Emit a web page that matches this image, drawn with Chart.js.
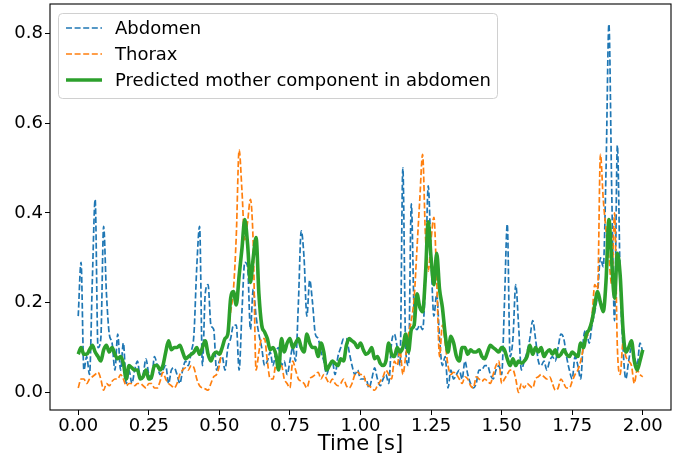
<!DOCTYPE html>
<html>
<head>
<meta charset="utf-8">
<script src="https://cdn.jsdelivr.net/npm/chart.js@4/dist/chart.umd.min.js"></script>
<style>
  html, body { margin: 0; padding: 0; background: #ffffff; }
  canvas { display: block; }
</style>
</head>
<body>
<canvas id="chart" width="683" height="460"></canvas>
<script>
// Seconds between consecutive samples of every trace
const SAMPLE_STEP = 0.01;

// Abdominal lead (blue, dashed)
const abdomen = [
  0.17, 0.29, 0.05, 0.08, 0.04, 0.25, 0.43, 0.10, 0.12, 0.37,
  0.22, 0.13, 0.11, 0.05, 0.13, 0.05, 0.11, 0.02, 0.05, 0.02,
  0.05, 0.07, 0.03, 0.04, 0.075, 0.04, 0.03, 0.08, 0.06, 0.04,
  0.05, 0.06, 0.02, 0.05, 0.055, 0.04, 0.02, 0.05, 0.07, 0.06,
  0.09, 0.13, 0.28, 0.37, 0.06, 0.22, 0.24, 0.15, 0.14, 0.05,
  0.07, 0.08, 0.05, 0.10, 0.12, 0.15, 0.15, 0.05, 0.18, 0.29,
  0.28, 0.14, 0.23, 0.17, 0.13, 0.10, 0.06, 0.07, 0.09, 0.06,
  0.09, 0.10, 0.06, 0.07, 0.04, 0.07, 0.10, 0.07, 0.20, 0.36,
  0.30, 0.17, 0.25, 0.20, 0.13, 0.12, 0.09, 0.07, 0.04, 0.06,
  0.07, 0.04, 0.08, 0.10, 0.12, 0.12, 0.09, 0.06, 0.04, 0.05,
  0.03, 0.03, 0.03, 0.01, 0.03, 0.055, 0.03, 0.015, 0.03, 0.04,
  0.02, 0.11, 0.13, 0.10, 0.06, 0.50, 0.10, 0.06, 0.42, 0.18,
  0.14, 0.15, 0.14, 0.25, 0.46, 0.30, 0.17, 0.22, 0.12, 0.06,
  0.08, 0.01, 0.05, 0.03, 0.04, 0.05, 0.03, 0.07, 0.04, 0.02,
  0.01, 0.02, 0.05, 0.05, 0.06, 0.06, 0.04, 0.03, 0.05, 0.06,
  0.04, 0.20, 0.375, 0.08, 0.12, 0.24, 0.15, 0.05, 0.07, 0.09,
  0.12, 0.16, 0.12, 0.07, 0.06, 0.07, 0.05, 0.07, 0.08, 0.07,
  0.10, 0.13, 0.12, 0.08, 0.05, 0.03, 0.08, 0.06, 0.03, 0.12,
  0.14, 0.11, 0.15, 0.18, 0.22, 0.30, 0.28, 0.50, 0.82, 0.45,
  0.16, 0.55, 0.25, 0.10, 0.03, 0.07, 0.10, 0.08, 0.06, 0.11,
  0.09
];

// Thoracic lead (orange, dashed)
const thorax = [
  0.01, 0.03, 0.03, 0.02, 0.03, 0.035, 0.04, 0.045, 0.03, 0.005,
  0.02, 0.015, 0.025, 0.03, 0.03, 0.04, 0.03, 0.015, 0.02, 0.02,
  0.015, 0.02, 0.02, 0.015, 0.01, 0.02, 0.02, 0.01, 0.01, 0.025,
  0.045, 0.03, 0.02, 0.015, 0.01, 0.02, 0.04, 0.05, 0.055, 0.05,
  0.06, 0.055, 0.03, 0.015, 0.01, 0.008, 0.005, 0.02, 0.035, 0.04,
  0.06, 0.10, 0.12, 0.13, 0.18, 0.23, 0.35, 0.54, 0.45, 0.34,
  0.38, 0.43, 0.33, 0.05, 0.09, 0.12, 0.12, 0.07, 0.03, 0.03,
  0.06, 0.05, 0.06, 0.03, 0.02, 0.01, 0.07, 0.05, 0.03, 0.025,
  0.02, 0.01, 0.03, 0.035, 0.04, 0.045, 0.03, 0.04, 0.03, 0.02,
  0.03, 0.02, 0.015, 0.02, 0.03, 0.015, 0.01, 0.02, 0.04, 0.045,
  0.04, 0.04, 0.02, 0.015, 0.01, 0.005, 0.015, 0.025, 0.035, 0.05,
  0.04, 0.03, 0.07, 0.06, 0.095, 0.04, 0.08, 0.13, 0.16, 0.21,
  0.32, 0.43, 0.53, 0.35, 0.27, 0.34, 0.39, 0.25, 0.08, 0.15,
  0.11, 0.06, 0.04, 0.045, 0.04, 0.03, 0.02, 0.035, 0.03, 0.015,
  0.01, 0.035, 0.03, 0.025, 0.03, 0.025, 0.02, 0.04, 0.06, 0.07,
  0.02, 0.03, 0.04, 0.05, 0.05, 0.03, 0.0, 0.02, 0.01, 0.02,
  0.015, 0.01, 0.03, 0.035, 0.04, 0.035, 0.03, 0.035, 0.02, 0.005,
  0.01, 0.03, 0.02, 0.01, 0.01, 0.025, 0.04, 0.05, 0.07, 0.10,
  0.12, 0.14, 0.17, 0.24, 0.23, 0.53, 0.43, 0.36, 0.30, 0.24,
  0.40, 0.10, 0.04, 0.11, 0.08, 0.07, 0.06, 0.02, 0.05, 0.04,
  0.035
];

// Estimated maternal component in the abdominal lead (green, solid)
const predicted = [
  0.085, 0.10, 0.085, 0.085, 0.095, 0.105, 0.09, 0.08, 0.07, 0.095,
  0.105, 0.09, 0.10, 0.085, 0.075, 0.08, 0.065, 0.03, 0.06, 0.055,
  0.05, 0.05, 0.03, 0.035, 0.05, 0.03, 0.035, 0.06, 0.06, 0.05,
  0.06, 0.09, 0.115, 0.095, 0.10, 0.10, 0.105, 0.09, 0.075, 0.08,
  0.085, 0.09, 0.10, 0.085, 0.10, 0.115, 0.085, 0.07, 0.085, 0.09,
  0.085, 0.10, 0.12, 0.13, 0.21, 0.225, 0.195, 0.26, 0.32, 0.385,
  0.33, 0.245, 0.30, 0.345, 0.22, 0.15, 0.135, 0.12, 0.095, 0.10,
  0.085, 0.05, 0.12, 0.09, 0.11, 0.12, 0.10, 0.11, 0.12, 0.10,
  0.09, 0.13, 0.11, 0.10, 0.10, 0.08, 0.11, 0.09, 0.05, 0.06,
  0.07, 0.065, 0.06, 0.075, 0.07, 0.105, 0.12, 0.115, 0.11, 0.10,
  0.11, 0.095, 0.085, 0.09, 0.10, 0.075, 0.08, 0.065, 0.06, 0.07,
  0.11, 0.085, 0.08, 0.10, 0.09, 0.10, 0.13, 0.09, 0.14, 0.15,
  0.22, 0.19, 0.18, 0.26, 0.38, 0.30, 0.24, 0.31, 0.23, 0.19,
  0.13, 0.09, 0.125, 0.11, 0.08, 0.07, 0.10, 0.10, 0.085, 0.095,
  0.09, 0.09, 0.095, 0.08, 0.075, 0.09, 0.105, 0.10, 0.095, 0.09,
  0.10, 0.095, 0.075, 0.06, 0.075, 0.06, 0.07, 0.065, 0.07, 0.08,
  0.105, 0.085, 0.10, 0.09, 0.10, 0.08, 0.09, 0.095, 0.085, 0.095,
  0.08, 0.085, 0.095, 0.085, 0.08, 0.09, 0.085, 0.08, 0.11, 0.10,
  0.13, 0.14, 0.16, 0.195, 0.225, 0.20, 0.18, 0.25, 0.385, 0.29,
  0.21, 0.31, 0.26, 0.14, 0.09, 0.10, 0.115, 0.07, 0.05, 0.07,
  0.095
];

const seriesLabels = ['Abdomen', 'Thorax', 'Predicted mother component in abdomen'];

const xTickValues = [0, 0.25, 0.5, 0.75, 1.0, 1.25, 1.5, 1.75, 2.0];
const xTickLabels = ['0.00', '0.25', '0.50', '0.75', '1.00', '1.25', '1.50', '1.75', '2.00'];
const yTickValues = [0, 0.2, 0.4, 0.6, 0.8];
const yTickLabels = ['0.0', '0.2', '0.4', '0.6', '0.8'];
const xAxisTitle = 'Time [s]';

const FONT = '"DejaVu Sans", "Liberation Sans", sans-serif';

function toPoints(values) {
  return values.map((v, i) => ({ x: i * SAMPLE_STEP, y: v }));
}

function fixedTicks(values) {
  return (scale) => { scale.ticks = values.map(v => ({ value: v })); };
}

// Pin the axis box size and drop the extra room Chart.js reserves for edge labels
function pinSize(prop, size) {
  return (s) => {
    s[prop] = size;
    s.paddingTop = 0; s.paddingBottom = 0; s.paddingLeft = 0; s.paddingRight = 0;
  };
}

// Legend drawn inside the plot, upper-left, with a rounded translucent frame
const insetLegend = {
  id: 'insetLegend',
  afterDatasetsDraw(chart) {
    const { ctx, chartArea } = chart;
    const x0 = chartArea.left + 8, y0 = chartArea.top + 9;
    const w = 439, h = 85;
    ctx.save();
    ctx.beginPath();
    ctx.roundRect(x0 + 0.5, y0 + 0.5, w, h, 4);
    ctx.fillStyle = 'rgba(255,255,255,0.8)';
    ctx.fill();
    ctx.strokeStyle = '#d0d0d0';
    ctx.lineWidth = 1;
    ctx.stroke();
    chart.data.datasets.forEach((ds, i) => {
      const cy = y0 + 15 + i * 26;
      ctx.beginPath();
      ctx.setLineDash(ds.borderDash || []);
      ctx.strokeStyle = ds.borderColor;
      ctx.lineWidth = ds.borderWidth;
      ctx.moveTo(x0 + 8, cy);
      ctx.lineTo(x0 + 44, cy);
      ctx.stroke();
      ctx.setLineDash([]);
      ctx.fillStyle = '#000000';
      ctx.font = '18px ' + FONT;
      ctx.textBaseline = 'middle';
      ctx.textAlign = 'left';
      ctx.fillText(ds.label, x0 + 57, cy + 1);
    });
    ctx.restore();
  }
};

// Black frame on all four sides of the plotting area
const axesFrame = {
  id: 'axesFrame',
  afterDraw(chart) {
    const { ctx, chartArea } = chart;
    ctx.save();
    ctx.strokeStyle = '#000000';
    ctx.lineWidth = 1.1;
    ctx.strokeRect(chartArea.left, chartArea.top,
      chartArea.right - chartArea.left, chartArea.bottom - chartArea.top);
    ctx.restore();
  }
};

const dashed = [6, 2.6];

new Chart(document.getElementById('chart'), {
  type: 'line',
  data: {
    datasets: [
      { label: seriesLabels[0], data: toPoints(abdomen), borderColor: '#1f77b4',
        borderWidth: 1.7, borderDash: dashed, order: 3 },
      { label: seriesLabels[1], data: toPoints(thorax), borderColor: '#ff7f0e',
        borderWidth: 1.7, borderDash: dashed, order: 2 },
      { label: seriesLabels[2], data: toPoints(predicted), borderColor: '#2ca02c',
        borderWidth: 3.6, order: 1 }
    ]
  },
  options: {
    responsive: false,
    animation: false,
    devicePixelRatio: 1,
    layout: { padding: { top: 4, right: 12, left: 0, bottom: 0 } },
    elements: {
      point: { radius: 0, hoverRadius: 0 },
      line: { fill: false, cubicInterpolationMode: 'monotone', borderJoinStyle: 'round' }
    },
    plugins: {
      legend: { display: false },
      tooltip: { enabled: false }
    },
    scales: {
      x: {
        type: 'linear',
        min: -0.1, max: 2.1,
        afterBuildTicks: fixedTicks(xTickValues),
        afterFit: pinSize('height', 50),
        border: { display: false },
        grid: { drawOnChartArea: false, drawTicks: true, tickLength: 5, color: '#000000', lineWidth: 1 },
        ticks: {
          color: '#000000', padding: 1, maxRotation: 0, autoSkip: false,
          font: { family: FONT, size: 18 },
          callback: (v) => xTickLabels[xTickValues.indexOf(v)]
        },
        title: {
          display: true, text: xAxisTitle, color: '#000000',
          font: { family: FONT, size: 21 }, padding: { top: 0, bottom: 3 }
        }
      },
      y: {
        type: 'linear',
        min: -0.039, max: 0.865,
        afterBuildTicks: fixedTicks(yTickValues),
        afterFit: pinSize('width', 50),
        border: { display: false },
        grid: { drawOnChartArea: false, drawTicks: true, tickLength: 5, color: '#000000', lineWidth: 1 },
        ticks: {
          color: '#000000', padding: 2, autoSkip: false,
          font: { family: FONT, size: 18 },
          callback: (v) => yTickLabels[yTickValues.indexOf(v)]
        }
      }
    }
  },
  plugins: [insetLegend, axesFrame]
});
</script>
</body>
</html>
